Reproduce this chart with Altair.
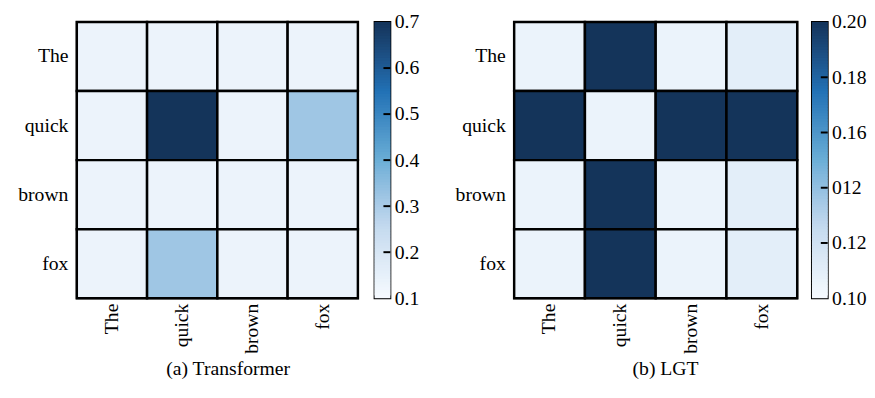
import altair as alt
import pandas as pd

tokens = ["The", "quick", "brown", "fox"]

# rows (query) x cols (key)
transformer_vals = [
    [0.135, 0.135, 0.135, 0.135],
    [0.135, 0.70, 0.135, 0.32],
    [0.135, 0.135, 0.135, 0.135],
    [0.135, 0.32, 0.135, 0.135],
]
lgt_vals = [
    [0.106, 0.20, 0.106, 0.110],
    [0.20, 0.106, 0.20, 0.20],
    [0.106, 0.20, 0.106, 0.110],
    [0.106, 0.20, 0.106, 0.110],
]

transformer_ticks = [0.1, 0.2, 0.3, 0.4, 0.5, 0.6, 0.7]
lgt_ticks = [0.10, 0.12, 0.14, 0.16, 0.18, 0.20]

FONT = "Liberation Serif"
color_range = ["#f7fbff", "#c6dbef", "#6baed6", "#2171b5", "#14345a"]
N_STEPS = 100
H = 281


def frame(vals):
    rows = []
    for i, r in enumerate(tokens):
        for j, c in enumerate(tokens):
            rows.append({"row": r, "col": c, "value": vals[i][j]})
    return pd.DataFrame(rows)


def heat(vals, domain, title, w, h, dx):
    return alt.Chart(frame(vals)).mark_rect(
        stroke="black", strokeWidth=2.5
    ).encode(
        x=alt.X("col:N", sort=tokens, title=None,
                scale=alt.Scale(paddingInner=0, paddingOuter=0),
                axis=alt.Axis(labelAngle=270, labelFont=FONT, labelFontSize=20,
                              labelColor="black", domain=False, ticks=False,
                              labelPadding=5)),
        y=alt.Y("row:N", sort=tokens, title=None,
                scale=alt.Scale(paddingInner=0, paddingOuter=0),
                axis=alt.Axis(labelFont=FONT, labelFontSize=20, labelColor="black",
                              domain=False, ticks=False, labelPadding=9,
                              minExtent=59)),
        color=alt.Color("value:Q", legend=None,
                        scale=alt.Scale(domain=domain, range=color_range)),
    ).properties(
        width=w, height=h,
        title=alt.TitleParams(title, orient="bottom", font=FONT, fontSize=20,
                              fontWeight="normal", color="black",
                              frame="group", dx=dx, offset=6),
    )


def colorbar(domain, ticks, label_expr, h):
    lo, hi = domain
    step = (hi - lo) / N_STEPS
    cb = pd.DataFrame({
        "lo": [lo + k * step for k in range(N_STEPS)],
        "hi": [min(hi, lo + (k + 2) * step) for k in range(N_STEPS)],
        "mid": [lo + (k + 0.5) * step for k in range(N_STEPS)],
    })
    yscale = alt.Scale(domain=domain, nice=False, zero=False)
    bar = alt.Chart(cb).mark_rect().encode(
        y=alt.Y("lo:Q", scale=yscale, title=None,
                axis=alt.Axis(orient="right", values=ticks, labelExpr=label_expr,
                              labelFont=FONT, labelFontSize=20, labelColor="black",
                              domain=False, ticks=False, grid=False,
                              labelPadding=4, labelBaseline="middle",
                              labelOverlap=False, labelFlush=False)),
        y2="hi:Q",
        color=alt.Color("mid:Q", legend=None,
                        scale=alt.Scale(domain=domain, range=color_range)),
    )
    inner = pd.DataFrame({"t": ticks[1:-1]})
    tk = alt.Chart(inner).mark_rule(color="black", strokeWidth=2).encode(
        y=alt.Y("t:Q", scale=yscale),
        x=alt.value(9), x2=alt.value(16),
    )
    return alt.layer(bar, tk).properties(width=16, height=h)


left = alt.hconcat(
    heat(transformer_vals, [0.1, 0.7], "(a) Transformer", 286, H, 11),
    colorbar([0.1, 0.7], transformer_ticks, "format(datum.value, '.1f')", H),
    spacing=13,
).resolve_scale(color="shared", y="independent")
right = alt.hconcat(
    heat(lgt_vals, [0.10, 0.20], "(b) LGT", 288, H, 10),
    colorbar([0.10, 0.20], lgt_ticks,
             "abs(datum.value - 0.14) < 0.001 ? '012' : format(datum.value, '.2f')", H),
    spacing=11,
).resolve_scale(color="shared", y="independent")

chart = alt.hconcat(left, right, spacing=34).resolve_scale(
    color="independent", y="independent"
).configure_view(
    stroke="black", strokeWidth=2
).properties(padding={"left": 8, "top": 0, "right": 0, "bottom": 0})

chart.save("out.html", embed_options={"renderer": "svg", "actions": False})
